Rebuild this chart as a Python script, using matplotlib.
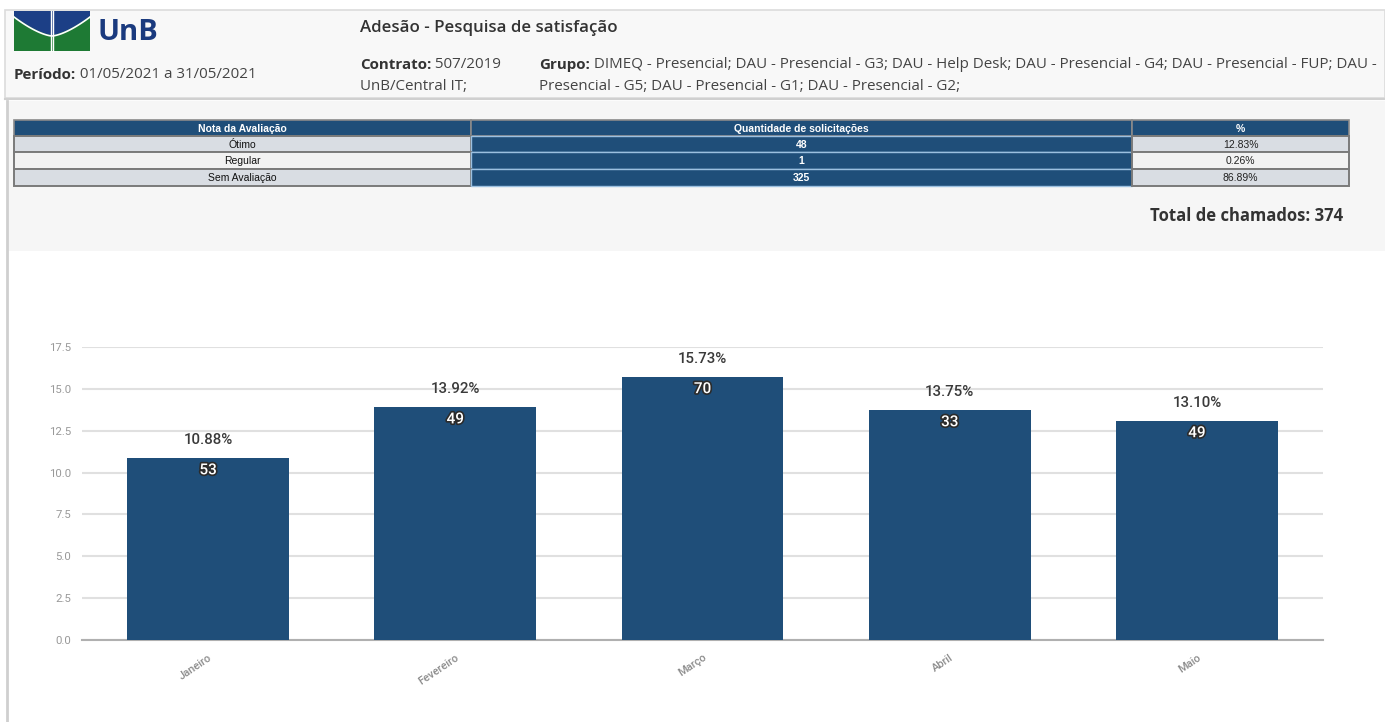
import numpy as np
import matplotlib
matplotlib.use("Agg")
import matplotlib.pyplot as plt
from matplotlib.patches import Rectangle, Polygon
import matplotlib.patheffects as pe

# ---- data ----
months = ["Janeiro", "Fevereiro", "Março", "Abril", "Maio"]
adesao_pct = [10.88, 13.92, 15.73, 13.75, 13.10]
avaliados = [53, 49, 70, 33, 49]

notas = ["Ótimo", "Regular", "Sem Avaliação"]
quantidades = [48, 1, 325]
percentuais = ["12.83%", "0.26%", "86.89%"]
total_chamados = 374

yticks = [0.0, 2.5, 5.0, 7.5, 10.0, 12.5, 15.0, 17.5]

# ---- colours / fonts ----
NAVY = "#1f4e79"
TXT = "#333333"
HEAD_FONT = ["Open Sans", "DejaVu Sans"]
TABLE_FONT = ["Liberation Sans Narrow", "Liberation Sans", "DejaVu Sans"]
CHART_FONT = ["Roboto", "DejaVu Sans"]

W, H = 1385, 722
fig = plt.figure(figsize=(W / 100, H / 100), dpi=100)
fig.patch.set_facecolor("white")

# page canvas in pixel units (y downwards)
bg = fig.add_axes([0, 0, 1, 1], zorder=0)
bg.set_xlim(0, W)
bg.set_ylim(H, 0)
bg.axis("off")

# header panel
bg.add_patch(Rectangle((5, 10), W - 5, 88, facecolor="#f8f8f8",
                       edgecolor="#dcdcdc", lw=1.2))
bg.plot([5, W], [99, 99], color="#d0d0d0", lw=1.5)
# grey band behind the table
bg.add_patch(Rectangle((8, 101), W - 8, 150, facecolor="#f6f6f6",
                       edgecolor="none"))
# left page border
bg.plot([7, 7], [101, H], color="#cfcfcf", lw=2)

# logo
bg.add_patch(Rectangle((14, 11), 76, 40, facecolor="#1e7a34", edgecolor="none"))
xs = np.linspace(14, 90, 80)
d = np.abs((xs - 52) / 38)
curve = 16 + 19 * (1 - d ** 1.5)
blue = np.column_stack([np.r_[xs, 90, 14], np.r_[curve, 11, 11]])
bg.add_patch(Polygon(blue, closed=True, facecolor="#1c3f86", edgecolor="none"))
bg.plot(xs, curve + 1, color="white", lw=1.2)
bg.plot([51, 51], [11, 51], color="white", lw=1.0)
bg.plot([53, 53], [11, 51], color="white", lw=1.0)
bg.text(97, 33, "UnB", color="#1a3a7e", fontsize=21, fontweight="bold",
        family=HEAD_FONT, va="center", ha="left")


def label_value(x, y, label, value, size=11, bold_color=TXT, val_color="#444444"):
    t = bg.text(x, y, label, fontsize=size, fontweight="bold", color=bold_color,
                family=HEAD_FONT, va="center", ha="left")
    if value:
        bg.annotate(value, xy=(1, 0), xycoords=t, fontsize=size, color=val_color,
                    family=HEAD_FONT, va="bottom", ha="left")
    return t


bg.text(360, 28, "Adesão - Pesquisa de satisfação", fontsize=12.2,
        fontweight="semibold", color=TXT, family=HEAD_FONT, va="center", ha="left")
label_value(14, 75, "Período:", " 01/05/2021 a 31/05/2021", size=10.9)
label_value(360, 65, "Contrato:", " 507/2019", size=10.9)
bg.text(360, 87, "UnB/Central IT;", fontsize=10.9, color="#444444",
        family=HEAD_FONT, va="center", ha="left")
label_value(539, 65, "Grupo:", " DIMEQ - Presencial; DAU - Presencial - G3; DAU - Help Desk; "
            "DAU - Presencial - G4; DAU - Presencial - FUP; DAU -", size=10.9)
bg.text(539, 87, "Presencial - G5; DAU - Presencial - G1; DAU - Presencial - G2;",
        fontsize=10.9, color="#444444", family=HEAD_FONT, va="center", ha="left")

# ---- summary table ----
col_x = [14, 471, 1132, 1349]
row_y = [120, 136, 152, 169, 186]
headers = ["Nota da Avaliação", "Quantidade de solicitações", "%"]
light_rows = ["#d9dde3", "#f2f2f2", "#d9dde3"]

for c in range(3):
    x0, x1 = col_x[c], col_x[c + 1]
    bg.add_patch(Rectangle((x0, row_y[0]), x1 - x0, row_y[1] - row_y[0],
                           facecolor=NAVY, edgecolor="#8a8a8a", lw=1.2))
    bg.text((x0 + x1) / 2, (row_y[0] + row_y[1]) / 2 + 0.5, headers[c],
            color="white", fontsize=7.5, fontweight="bold", family=TABLE_FONT,
            ha="center", va="center")

for r in range(3):
    y0, y1 = row_y[r + 1], row_y[r + 2]
    yc = (y0 + y1) / 2 + 0.5
    # rating name
    bg.add_patch(Rectangle((col_x[0], y0), col_x[1] - col_x[0], y1 - y0,
                           facecolor=light_rows[r], edgecolor="#7a7a7a", lw=1.4))
    bg.text((col_x[0] + col_x[1]) / 2, yc, notas[r], color="#111111", fontsize=7.5,
            family=TABLE_FONT, ha="center", va="center")
    # request count
    bg.add_patch(Rectangle((col_x[1], y0), col_x[2] - col_x[1], y1 - y0,
                           facecolor=NAVY, edgecolor="#9cc0e0", lw=1.0))
    bg.text((col_x[1] + col_x[2]) / 2, yc, str(quantidades[r]), color="white",
            fontsize=7.5, fontweight="bold", family=TABLE_FONT, ha="center", va="center")
    # share
    bg.add_patch(Rectangle((col_x[2], y0), col_x[3] - col_x[2], y1 - y0,
                           facecolor=light_rows[r], edgecolor="#7a7a7a", lw=1.4))
    bg.text((col_x[2] + col_x[3]) / 2, yc, percentuais[r], color="#222222",
            fontsize=7.5, family=TABLE_FONT, ha="center", va="center")

bg.text(1343, 216, f"Total de chamados: {total_chamados}", fontsize=12,
        fontweight="bold", color=TXT, family=HEAD_FONT, ha="right", va="center")

# ---- bar chart ----
ax = fig.add_axes([82 / W, (H - 640) / H, (1323 - 82) / W, (640 - 347) / H], zorder=2)
ax.set_facecolor("none")
x = np.arange(len(months))
bars = ax.bar(x, adesao_pct, width=0.655, color=NAVY, zorder=3)
ax.set_xlim(-0.51, len(months) - 0.49)
ax.set_ylim(0, 17.5)
ax.set_yticks(yticks)
ax.set_yticklabels([f"{v:.1f}" for v in yticks])
ax.yaxis.grid(True, color="#e0e0e0", lw=1.5, zorder=0)
ax.set_axisbelow(True)
for s in ("top", "right", "left"):
    ax.spines[s].set_visible(False)
ax.spines["bottom"].set_color("#b0b0b0")
ax.spines["bottom"].set_linewidth(1.5)
ax.tick_params(axis="y", length=0, pad=8, labelsize=8.2, labelcolor="#999999")
ax.tick_params(axis="x", length=0, pad=9, labelsize=8, labelcolor="#8c8c8c")
ax.set_xticks(x)
ax.set_xticklabels(months, rotation=34, ha="right", rotation_mode="anchor",
                   family=CHART_FONT, fontweight="medium")
for lbl in ax.get_xticklabels():
    lbl.set_x(lbl.get_position()[0])
for lbl in ax.get_yticklabels():
    lbl.set_family(CHART_FONT)

for xi, pct, n in zip(x, adesao_pct, avaliados):
    ax.annotate(f"{pct:.2f}%", xy=(xi, pct), xytext=(0, 13), textcoords="offset points",
                ha="center", va="center", fontsize=10.8, fontweight="medium",
                color="#3a3a3a", family=CHART_FONT)
    ax.annotate(str(n), xy=(xi, pct), xytext=(0, -9), textcoords="offset points",
                ha="center", va="center", fontsize=11, color="white",
                fontweight="medium", family=CHART_FONT,
                path_effects=[pe.withStroke(linewidth=2.4, foreground="#2b2b2b")])

fig.savefig("out.png", dpi=100, facecolor="white")
